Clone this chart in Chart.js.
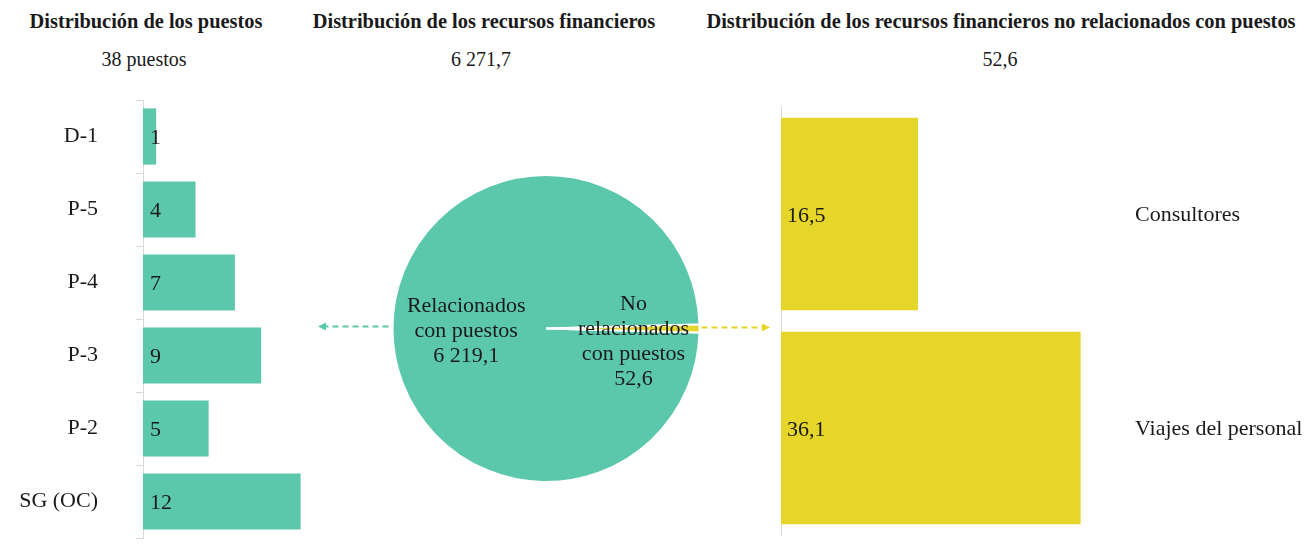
<!DOCTYPE html>
<html lang="es">
<head>
<meta charset="utf-8">
<title>Distribución de los puestos y recursos financieros</title>
<script src="https://cdn.jsdelivr.net/npm/chart.js@4.4.1/dist/chart.umd.min.js"></script>
<style>
  html, body { margin: 0; padding: 0; background: #fff; }
  body { width: 1305px; height: 554px; position: relative; overflow: hidden;
         font-family: 'Liberation Serif', serif; color: #1a1a1a; }
  .title { position: absolute; top: 10px; font-weight: bold; font-size: 20.4px;
           white-space: nowrap; transform: translateX(-50%); }
  .sub { position: absolute; top: 48px; font-size: 20px; white-space: nowrap; transform: translateX(-50%); }
  .panel { position: absolute; top: 0; height: 554px; }
</style>
</head>
<body>
<div class="title" style="left:146px">Distribución de los puestos</div>
<div class="title" style="left:484px">Distribución de los recursos financieros</div>
<div class="title" style="left:1001px">Distribución de los recursos financieros no relacionados con puestos</div>
<div class="sub" style="left:144px">38 puestos</div>
<div class="sub" style="left:481px">6 271,7</div>
<div class="sub" style="left:1000px">52,6</div>

<div class="panel" style="left:0;width:340px"><canvas id="posts-chart"></canvas></div>
<div class="panel" style="left:300px;width:480px"><canvas id="finance-chart"></canvas></div>
<div class="panel" style="left:770px;width:535px"><canvas id="cost-chart"></canvas></div>

<script>
// data
const postGrades = ['D-1', 'P-5', 'P-4', 'P-3', 'P-2', 'SG (OC)'];
const postCounts = [1, 4, 7, 9, 5, 12];

const financeLabels = ['Relacionados con puestos', 'No relacionados con puestos'];
const financeValues = [6219.1, 52.6];
const financeText = [
    ['Relacionados', 'con puestos', '6 219,1'],
    ['No', 'relacionados', 'con puestos', '52,6']
];

const costItems = ['Consultores', 'Viajes del personal'];
const costValues = [16.5, 36.1];

const GREEN = '#5cc8ab';
const YELLOW = '#e5d629';
const AXIS_GREY = '#d9d9d9';
const TEXT = '#1a1a1a';
const SERIF = "'Liberation Serif', serif";
const LABEL_FONT = '22px ' + SERIF;

Chart.defaults.font.family = SERIF;
Chart.defaults.color = TEXT;
Chart.defaults.animation = false;
Chart.defaults.plugins.legend.display = false;
Chart.defaults.plugins.tooltip.enabled = false;

const fmt = v => String(v).replace('.', ',');

// write the value at the start of each bar
const barValues = {
    id: 'barValues',
    afterDatasetsDraw(chart, args, opts) {
        const ctx = chart.ctx;
        const meta = chart.getDatasetMeta(0);
        ctx.save();
        ctx.font = LABEL_FONT;
        ctx.fillStyle = TEXT;
        ctx.textBaseline = 'middle';
        ctx.textAlign = 'left';
        meta.data.forEach((bar, i) => {
            const p = bar.getProps(['y', 'base'], true);
            ctx.fillText(fmt(chart.data.datasets[0].data[i]), p.base + opts.offset, p.y + 2);
        });
        ctx.restore();
    }
};

// category names to the right of the bars
const sideLabels = {
    id: 'sideLabels',
    afterDraw(chart) {
        const ctx = chart.ctx;
        const y = chart.scales.y;
        ctx.save();
        ctx.font = LABEL_FONT;
        ctx.fillStyle = TEXT;
        ctx.textBaseline = 'middle';
        ctx.textAlign = 'left';
        chart.data.labels.forEach((lbl, i) => {
            ctx.fillText(lbl, chart.chartArea.right + 22, y.getPixelForValue(i) + 1);
        });
        ctx.restore();
    }
};

// slice texts and the dashed arrows pointing to the side panels
const pieDecor = {
    id: 'pieDecor',
    afterDraw(chart) {
        const ctx = chart.ctx;
        const arc = chart.getDatasetMeta(0).data[0];
        const cx = arc.x, cy = arc.y, r = arc.outerRadius;
        ctx.save();
        ctx.font = LABEL_FONT;
        ctx.fillStyle = TEXT;
        ctx.textAlign = 'center';
        ctx.textBaseline = 'middle';
        financeText[0].forEach((t, i) => ctx.fillText(t, cx - 0.52 * r, cy - 22 + i * 25));
        financeText[1].forEach((t, i) => ctx.fillText(t, cx + 0.57 * r, cy - 24 + i * 25));

        const arrow = (x0, x1, yy, color) => {
            const dir = Math.sign(x1 - x0);
            ctx.strokeStyle = color;
            ctx.fillStyle = color;
            ctx.lineWidth = 2;
            ctx.setLineDash([6, 4]);
            ctx.beginPath();
            ctx.moveTo(x0, yy);
            ctx.lineTo(x1 - dir * 6, yy);
            ctx.stroke();
            ctx.setLineDash([]);
            ctx.beginPath();
            ctx.moveTo(x1, yy);
            ctx.lineTo(x1 - dir * 8, yy - 4);
            ctx.lineTo(x1 - dir * 8, yy + 4);
            ctx.closePath();
            ctx.fill();
        };
        arrow(cx - r - 4, 18, cy - 2, GREEN);
        arrow(cx + r + 2, 470, cy - 1, YELLOW);
        ctx.restore();
    }
};

// fixed axis width, and no extra vertical room reserved for the tick labels
const fixAxis = width => s => {
    s.width = width;
    s.paddingTop = 0;
    s.paddingBottom = 0;
};

function drawCharts() {
    new Chart(document.getElementById('posts-chart'), {
        type: 'bar',
        data: {
            labels: postGrades,
            datasets: [{
                data: postCounts,
                backgroundColor: GREEN,
                categoryPercentage: 1,
                barPercentage: 0.77
            }]
        },
        options: {
            indexAxis: 'y',
            responsive: true,
            maintainAspectRatio: false,
            layout: { autoPadding: false, padding: { top: 100, bottom: 16, left: 0, right: 0 } },
            scales: {
                x: { display: false, min: 0, max: 15 },
                y: {
                    afterFit: fixAxis(143),
                    grid: { drawOnChartArea: false, tickLength: 7, color: AXIS_GREY, offset: true },
                    border: { color: AXIS_GREY },
                    ticks: { font: { size: 22, family: SERIF }, color: TEXT, padding: 38 }
                }
            },
            plugins: { barValues: { offset: 7 } }
        },
        plugins: [barValues]
    });

    new Chart(document.getElementById('finance-chart'), {
        type: 'pie',
        data: {
            labels: financeLabels,
            datasets: [{
                data: financeValues,
                backgroundColor: [GREEN, YELLOW],
                borderColor: '#ffffff',
                borderWidth: 2
            }]
        },
        options: {
            responsive: true,
            maintainAspectRatio: false,
            // centre the small slice on the right-hand side
            rotation: 90 + (financeValues[1] / (financeValues[0] + financeValues[1])) * 180,
            layout: { padding: { top: 174, bottom: 71, left: 12, right: 0 } }
        },
        plugins: [pieDecor]
    });

    new Chart(document.getElementById('cost-chart'), {
        type: 'bar',
        data: {
            labels: costItems,
            datasets: [{
                data: costValues,
                backgroundColor: YELLOW,
                categoryPercentage: 1,
                barPercentage: 0.9
            }]
        },
        options: {
            indexAxis: 'y',
            responsive: true,
            maintainAspectRatio: false,
            layout: { autoPadding: false, padding: { top: 107, bottom: 19, left: 0, right: 192 } },
            scales: {
                x: { display: false, min: 0, max: 40 },
                y: {
                    afterFit: fixAxis(11),
                    grid: { display: false },
                    border: { color: AXIS_GREY },
                    ticks: { display: false }
                }
            },
            plugins: { barValues: { offset: 6 } }
        },
        plugins: [barValues, sideLabels]
    });
}

// make sure the serif face is ready before the canvases draw text
Promise.all([
    document.fonts.load("22px 'Liberation Serif'"),
    document.fonts.load("bold 20px 'Liberation Serif'")
]).catch(() => {}).then(drawCharts);
</script>
</body>
</html>
